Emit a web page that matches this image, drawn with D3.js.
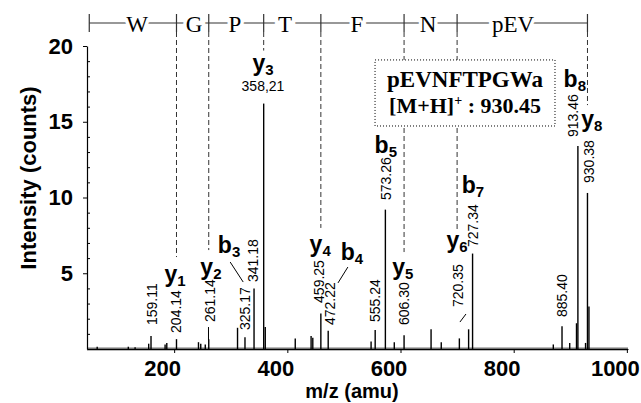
<!DOCTYPE html>
<html>
<head>
<meta charset="utf-8">
<script src="https://cdn.jsdelivr.net/npm/d3@7"></script>
<style>
  body { margin: 0; background: #fff; }
  .tick text { font-family: "Liberation Sans", Arial, sans-serif; font-weight: bold; font-size: 22px; fill: #000; }
</style>
</head>
<body>
<div id="chart"></div>
<script>
// Spectrum peaks (m/z, intensity in counts)
var peakMz = [64, 119, 131, 155, 159.11, 184, 187, 204.14, 243, 247, 255, 261.14, 312, 325.17, 341.18, 358.21, 361,
  414, 442, 445, 459.25, 472.22, 548, 555.24, 573.26, 589, 606.30, 654, 672, 704, 720.35, 727.34,
  870, 885.40, 899, 911, 913.46, 927, 930.38, 933];
var peakInt = [0.15, 0.15, 0.12, 0.35, 0.85, 0.3, 0.4, 0.65, 0.45, 0.35, 0.3, 0.65, 1.4, 0.77, 4.0, 16.2, 1.45,
  0.7, 0.85, 0.75, 2.35, 1.2, 0.5, 1.25, 9.2, 0.45, 0.9, 1.3, 0.45, 0.7, 1.3, 6.3,
  0.3, 1.5, 0.4, 1.7, 13.4, 0.4, 10.3, 2.8];

// m/z value labels: text, anchor position (m/z, intensity), rotated or not
var valueText = ["159.11", "204.14", "261.14", "325.17", "341.18", "358,21", "459.25", "472.22", "555.24",
  "573.26", "606.30", "720.35", "727.34", "885.40", "913.46", "930.38"];
var valueMz  = [160.3, 203.3, 263.4, 325.2, 339.3, 357, 456, 475.4, 555, 574.4, 606, 701.6, 728, 886, 904.8, 933];
var valueInt = [1.58, 1.06, 1.78, 1.25, 4.42, 17.05, 3.04, 1.58, 1.78, 9.83, 1.58, 2.77, 6.73, 2.11, 13.99, 10.96];
var valueRot = [true, true, true, true, true, false, true, true, true, true, true, true, true, true, true, true];

// Fragment ion labels
var ionType  = ["y", "y", "b", "y", "y", "b", "b", "y", "y", "b", "b", "y"];
var ionNum   = ["1", "2", "3", "3", "4", "4", "5", "5", "6", "7", "8", "8"];
var ionMz    = [201.5, 265, 297, 357, 458, 514, 574, 604, 700, 728, 908, 938];
var ionInt   = [4.42, 4.88, 6.34, 18.33, 6.40, 5.87, 12.94, 4.88, 6.67, 10.30, 17.29, 14.65];

// Leader lines (m/z1, int1, m/z2, int2)
var leaders = [[299, 5.74, 322, 4.42], [507, 5.41, 489.5, 4.36], [260.7, 1.45, 260.7, 0.59], [705, 1.78, 715.7, 2.31]];

// Sequence ruler: residue boundaries (m/z), residue names and their positions
var cutMz    = [50, 204.14, 261.14, 358.21, 459.25, 606.30, 700, 930.38];
var cutEnd   = [null, 6.07, 6.53, 19.7, 7.99, 6.40, 7.85, 16.1];
var residues = ["W", "G", "P", "T", "F", "N", "pEV"];
var residueMz = [134.4, 235, 307.5, 396, 523, 648.6, 798.8];

var xTicks = [200, 400, 600, 800, 1000];
var yTicks = [5, 10, 15, 20];
var yMinor = [1, 2, 3, 4, 6, 7, 8, 9, 11, 12, 13, 14, 16, 17, 18, 19];

var svgWidth = 641;
var svgHeight = 403;
var margin = { top: 46, right: 13, bottom: 54, left: 87 };
var chartWidth = svgWidth - margin.left - margin.right;
var chartHeight = svgHeight - margin.top - margin.bottom;

var sans = '"Liberation Sans", Arial, sans-serif';
var serif = '"Liberation Serif", "Times New Roman", serif';

var svg = d3.select("#chart").append("svg")
  .attr("width", svgWidth)
  .attr("height", svgHeight)
  .style("background", "#fff");

var chartGroup = svg.append("g")
  .attr("transform", `translate(${margin.left}, ${margin.top})`);

var x = d3.scaleLinear().domain([46, 1002]).range([0, chartWidth]);
var y = d3.scaleLinear().domain([0, 20]).range([chartHeight, 0]);

// dashed cut lines from ruler down to ion labels
chartGroup.selectAll(".cut")
  .data(cutMz.slice(1))
  .enter()
  .append("line")
  .attr("x1", d => x(d)).attr("x2", d => x(d))
  .attr("y1", -14)
  .attr("y2", (d, i) => y(cutEnd[i + 1]))
  .attr("stroke", "#333")
  .attr("stroke-width", 1)
  .attr("stroke-dasharray", "5,3");

// ruler
chartGroup.append("line")
  .attr("x1", x(cutMz[0])).attr("x2", x(cutMz[cutMz.length - 1]))
  .attr("y1", -23).attr("y2", -23)
  .attr("stroke", "#333").attr("stroke-width", 1.2);

chartGroup.selectAll(".bar")
  .data(cutMz)
  .enter()
  .append("line")
  .attr("x1", d => x(d)).attr("x2", d => x(d))
  .attr("y1", -32).attr("y2", -14)
  .attr("stroke", "#333").attr("stroke-width", 1.2);

chartGroup.selectAll(".res")
  .data(residues)
  .enter()
  .append("text")
  .attr("x", (d, i) => x(residueMz[i]))
  .attr("y", -14)
  .attr("text-anchor", "middle")
  .attr("font-family", serif)
  .attr("font-size", "23px")
  .attr("stroke", "#fff")
  .attr("stroke-width", 7)
  .attr("paint-order", "stroke")
  .text(d => d);

// baseline noise band
chartGroup.append("line")
  .attr("x1", 0).attr("x2", chartWidth)
  .attr("y1", y(0)).attr("y2", y(0))
  .attr("stroke", "#777").attr("stroke-width", 3);

// peaks
chartGroup.selectAll(".peak")
  .data(peakMz)
  .enter()
  .append("line")
  .attr("x1", d => x(d)).attr("x2", d => x(d))
  .attr("y1", y(0))
  .attr("y2", (d, i) => y(peakInt[i]))
  .attr("stroke", "#000")
  .attr("stroke-width", 1.4);

// axes
var bottomAxis = d3.axisBottom(x).tickValues(xTicks).tickSize(4).tickSizeOuter(0).tickFormat(d3.format("d"));
var leftAxis = d3.axisLeft(y).tickValues(yTicks).tickSize(4).tickSizeOuter(0);
var minorAxis = d3.axisLeft(y).tickValues(yMinor).tickSize(-3).tickSizeOuter(0).tickFormat("");

var xg = chartGroup.append("g")
  .attr("transform", `translate(0, ${chartHeight})`)
  .call(bottomAxis);
xg.selectAll(".tick text").attr("y", 11).attr("dx", -12);

var yg = chartGroup.append("g").call(leftAxis);
yg.selectAll(".tick text").attr("x", -14);
chartGroup.append("g").call(minorAxis).select(".domain").remove();

chartGroup.selectAll(".domain").attr("stroke", "#000").attr("stroke-width", 1.2);

// leader lines
chartGroup.selectAll(".leader")
  .data(leaders)
  .enter()
  .append("line")
  .attr("x1", d => x(d[0])).attr("y1", d => y(d[1]))
  .attr("x2", d => x(d[2])).attr("y2", d => y(d[3]))
  .attr("stroke", "#000").attr("stroke-width", 1);

// value labels
chartGroup.selectAll(".val")
  .data(valueText)
  .enter()
  .append("text")
  .attr("transform", (d, i) => valueRot[i]
    ? `translate(${x(valueMz[i])}, ${y(valueInt[i])}) rotate(-90)`
    : `translate(${x(valueMz[i])}, ${y(valueInt[i])})`)
  .attr("dy", (d, i) => valueRot[i] ? "0.36em" : 0)
  .attr("text-anchor", (d, i) => valueRot[i] ? "start" : "middle")
  .attr("font-family", sans)
  .attr("font-size", "14px")
  .text(d => d);

// ion labels
var ions = chartGroup.selectAll(".ion")
  .data(ionType)
  .enter()
  .append("text")
  .attr("x", (d, i) => x(ionMz[i]))
  .attr("y", (d, i) => y(ionInt[i]))
  .attr("text-anchor", "middle")
  .attr("font-family", sans)
  .attr("font-weight", "bold")
  .attr("font-size", "23px");
ions.append("tspan").text(d => d);
ions.append("tspan").attr("font-size", "15px").attr("dy", 4).text((d, i) => ionNum[i]);

// precursor box
var box = chartGroup.append("g");
box.append("rect")
  .attr("x", x(555)).attr("y", y(19.08))
  .attr("width", x(873) - x(555)).attr("height", y(14.72) - y(19.08))
  .attr("fill", "#fff")
  .attr("stroke", "#000").attr("stroke-width", 1)
  .attr("stroke-dasharray", "1,2");
box.append("text")
  .attr("x", x(714)).attr("y", y(17.29))
  .attr("text-anchor", "middle")
  .attr("font-family", serif).attr("font-weight", "bold").attr("font-size", "23px")
  .text("pEVNFTPGWa");
var l2 = box.append("text")
  .attr("x", x(714)).attr("y", y(15.58))
  .attr("text-anchor", "middle")
  .attr("font-family", serif).attr("font-weight", "bold").attr("font-size", "22px");
l2.append("tspan").text("[M+H]");
l2.append("tspan").attr("font-size", "14px").attr("dy", -8).text("+");
l2.append("tspan").attr("dy", 8).text(" : 930.45");

// axis titles
svg.append("text")
  .attr("transform", "translate(36, 178) rotate(-90)")
  .attr("text-anchor", "middle")
  .attr("font-family", sans).attr("font-weight", "bold").attr("font-size", "22px")
  .text("Intensity (counts)");

svg.append("text")
  .attr("x", 352).attr("y", 398)
  .attr("text-anchor", "middle")
  .attr("font-family", sans).attr("font-weight", "bold").attr("font-size", "20px")
  .text("m/z (amu)");
</script>
</body>
</html>
